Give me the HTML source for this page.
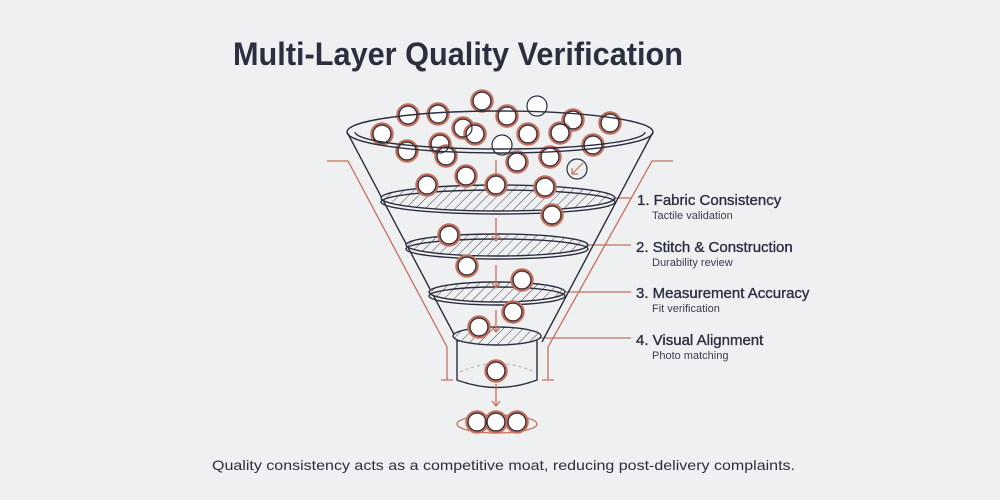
<!DOCTYPE html>
<html><head><meta charset="utf-8"><style>
html,body{margin:0;padding:0;background:#eff0f2;}
svg{display:block;}
</style></head><body>
<svg width="1000" height="500" viewBox="0 0 1000 500" xmlns="http://www.w3.org/2000/svg">
<defs>
<pattern id="h" width="7" height="7" patternUnits="userSpaceOnUse" patternTransform="rotate(45)">
<rect width="7" height="7" fill="#eff0f2"/><line x1="0" y1="0" x2="0" y2="7" stroke="#2b2f3e" stroke-width="0.9"/>
</pattern>
</defs>
<rect width="1000" height="500" fill="#eff0f2"/>
<text x="458" y="65" text-anchor="middle" font-family="Liberation Sans, sans-serif" font-weight="bold" font-size="32" fill="#2b2f3e" textLength="450" lengthAdjust="spacingAndGlyphs">Multi-Layer Quality Verification</text>

<g fill="none" stroke="#c4705c" stroke-width="1.3">
<path d="M327,161 H348 L447,347 V380 M441,380 H453"/>
<path d="M673,161 H652 L548,347 V380 M542,380 H554"/>
<path d="M612,198 H631 M586,245 H631 M563,292 H631 M540,338 H631"/>
</g>

<g fill="none" stroke="#2b2f3e" stroke-width="1.4">
<path d="M347,132 L458,342 M653,132 L542,342"/>
<ellipse cx="498" cy="198" rx="117" ry="13" fill="url(#h)"/>
<ellipse cx="498" cy="202" rx="117" ry="12"/>
<ellipse cx="497" cy="245" rx="91" ry="11" fill="url(#h)"/>
<ellipse cx="497" cy="249" rx="91" ry="10"/>
<ellipse cx="497" cy="292" rx="68" ry="10" fill="url(#h)"/>
<ellipse cx="497" cy="296" rx="68" ry="9"/>
<ellipse cx="497" cy="336" rx="44" ry="9" fill="url(#h)"/>
<path d="M457,340 V380 Q497,395 537,380 V340"/>
<path d="M460,372 Q497,355 535,372" stroke="#9aa0aa" stroke-width="0.8" stroke-dasharray="3,3"/>
</g>

<g fill="none" stroke="#c4705c" stroke-width="1.3">
<path d="M496,160 V186 M492,181 L496,186 L500,181"/>
<path d="M496,218 V241 M492,236 L496,241 L500,236"/>
<path d="M496,265 V288 M492,283 L496,288 L500,283"/>
<path d="M496,310 V332 M492,327 L496,332 L500,327"/>
<path d="M496,384 V406 M492,401 L496,406 L500,401"/>
</g>
<ellipse cx="497" cy="424" rx="40" ry="9" fill="none" stroke="#c4705c" stroke-width="1.3"/>

<g fill="#fff" stroke="#c4705c" stroke-width="3.5">
<circle cx="408" cy="115" r="10"/><circle cx="438" cy="114" r="10"/><circle cx="482" cy="101" r="10"/>
<circle cx="507" cy="116" r="10"/><circle cx="573" cy="120" r="10"/><circle cx="610" cy="123" r="10"/>
<circle cx="382" cy="134" r="10"/><circle cx="463" cy="128" r="10"/><circle cx="475" cy="134" r="10"/>
<circle cx="528" cy="134" r="10"/><circle cx="560" cy="133" r="10"/><circle cx="407" cy="151" r="10"/>
<circle cx="440" cy="144" r="10"/><circle cx="446" cy="156" r="10"/><circle cx="517" cy="162" r="10"/>
<circle cx="550" cy="157" r="10"/><circle cx="593" cy="145" r="10"/><circle cx="427" cy="185" r="10"/>
<circle cx="466" cy="176" r="10"/><circle cx="496" cy="185" r="10"/><circle cx="545" cy="187" r="10"/>
<circle cx="552" cy="215" r="10"/><circle cx="449" cy="235" r="10"/><circle cx="467" cy="266" r="10"/>
<circle cx="522" cy="280" r="10"/><circle cx="513" cy="312" r="10"/><circle cx="479" cy="327" r="10"/>
<circle cx="496" cy="371" r="10"/><circle cx="477" cy="422" r="10"/><circle cx="496" cy="422" r="10"/><circle cx="517" cy="422" r="10"/>
</g>
<g fill="none" stroke="#2b2f3e" stroke-width="1.2">
<circle cx="408" cy="115" r="9"/><circle cx="438" cy="114" r="9"/><circle cx="482" cy="101" r="9"/>
<circle cx="507" cy="116" r="9"/><circle cx="573" cy="120" r="9"/><circle cx="610" cy="123" r="9"/>
<circle cx="382" cy="134" r="9"/><circle cx="463" cy="128" r="9"/><circle cx="475" cy="134" r="9"/>
<circle cx="528" cy="134" r="9"/><circle cx="560" cy="133" r="9"/><circle cx="407" cy="151" r="9"/>
<circle cx="440" cy="144" r="9"/><circle cx="446" cy="156" r="9"/><circle cx="517" cy="162" r="9"/>
<circle cx="550" cy="157" r="9"/><circle cx="593" cy="145" r="9"/><circle cx="427" cy="185" r="9"/>
<circle cx="466" cy="176" r="9"/><circle cx="496" cy="185" r="9"/><circle cx="545" cy="187" r="9"/>
<circle cx="552" cy="215" r="9"/><circle cx="449" cy="235" r="9"/><circle cx="467" cy="266" r="9"/>
<circle cx="522" cy="280" r="9"/><circle cx="513" cy="312" r="9"/><circle cx="479" cy="327" r="9"/>
<circle cx="496" cy="371" r="9"/><circle cx="477" cy="422" r="9"/><circle cx="496" cy="422" r="9"/><circle cx="517" cy="422" r="9"/>
</g>
<g fill="#fff" stroke="#2b2f3e" stroke-width="1.2">
<circle cx="537" cy="106" r="10"/><circle cx="502" cy="145" r="10"/>
<circle cx="577" cy="169" r="10" fill="none"/>
</g>
<path d="M583,163 L572,174 M572,168 V174 H578" fill="none" stroke="#c4705c" stroke-width="1.2"/>

<g fill="none" stroke="#2b2f3e" stroke-width="1.4">
<path d="M347,132 A153,21 0 0 1 653,132"/>
<path d="M347,132 A153,21 0 0 0 653,132"/>
<path d="M355,132 A145,17 0 0 0 645,132"/>
</g>

<g font-family="Liberation Sans, sans-serif" fill="#2b2f3e">
<g stroke="#2b2f3e" stroke-width="0.35">
<text x="637" y="205" font-size="15">1. Fabric Consistency</text>
<text x="636" y="252" font-size="15">2. Stitch &amp; Construction</text>
<text x="636" y="298" font-size="15">3. Measurement Accuracy</text>
<text x="636" y="345" font-size="15">4. Visual Alignment</text>
</g>
<text x="652" y="219" font-size="11" fill="#3a3e4a">Tactile validation</text>
<text x="652" y="266" font-size="11" fill="#3a3e4a">Durability review</text>
<text x="652" y="312" font-size="11" fill="#3a3e4a">Fit verification</text>
<text x="652" y="359" font-size="11" fill="#3a3e4a">Photo matching</text>
<text x="212" y="470" font-size="14" textLength="583" lengthAdjust="spacingAndGlyphs">Quality consistency acts as a competitive moat, reducing post-delivery complaints.</text>
</g>
</svg>
</body></html>
